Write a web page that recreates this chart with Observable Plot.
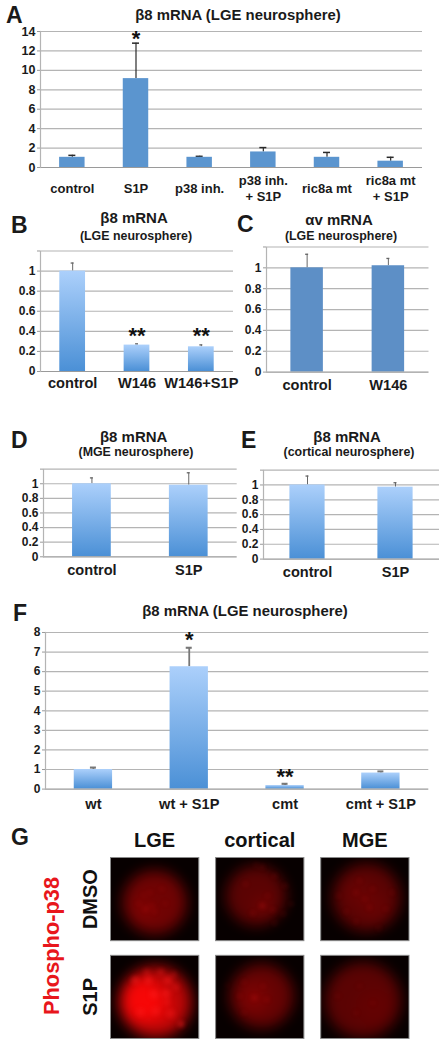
<!DOCTYPE html>
<html><head><meta charset="utf-8">
<script src="https://cdn.jsdelivr.net/npm/d3@7"></script>
<script src="https://cdn.jsdelivr.net/npm/@observablehq/plot@0.6"></script>
<style>
html,body{margin:0;padding:0;background:#fff;}
#page{position:relative;width:448px;height:1043px;overflow:hidden;font-family:"Liberation Sans",Arial,sans-serif;font-weight:bold;color:#1a1a1a;}
.pl{position:absolute;}
.lb{position:absolute;line-height:1;white-space:nowrap;}
.pl svg{background:transparent;overflow:visible;}
</style></head><body>
<svg width="0" height="0" style="position:absolute"><defs>
<linearGradient id="barGrad" x1="0" y1="0" x2="0" y2="1"><stop offset="0" stop-color="#acd0fb"/><stop offset="1" stop-color="#4b90d6"/></linearGradient>
</defs></svg>
<div id="page"></div>
<script>
// ---- Panel data ----
const catA = ["control","S1P","p38 inh.","p38 inh.\n+ S1P","ric8a mt","ric8a mt\n+ S1P"];
const valA = [1.05,9.15,1.05,1.6,1.05,0.65];
const errA = [1.25,12.8,1.15,2.05,1.55,1.05];
const starsA = [{c:"S1P",s:"*",v:13.2}];

const catB = ["control","W146","W146+S1P"];
const valB = [1,0.263,0.246];
const errB = [1.08,0.275,0.265];
const starsB = [{c:"W146",s:"**",v:0.355},{c:"W146+S1P",s:"**",v:0.355}];

const catC = ["control","W146"];
const valC = [1,1.02];
const errC = [1.13,1.09];

const catD = ["control","S1P"];
const valD = [1,0.98];
const errD = [1.08,1.15];

const catE = ["control","S1P"];
const valE = [1,0.97];
const errE = [1.12,1.03];

const catF = ["wt","wt + S1P","cmt","cmt + S1P"];
const valF = [1,6.25,0.18,0.82];
const errF = [1.1,7.22,0.27,0.9];
const starsF = [{c:"wt + S1P",s:"*",v:7.6},{c:"cmt",s:"**",v:0.62}];

const ticks02 = [0,0.2,0.4,0.6,0.8,1,1.2];
const ticksA = [0,2,4,6,8,10,12,14];
const ticksF = [0,1,2,3,4,5,6,7,8];
const tickLabel02 = d => d === 1.2 ? "" : String(d);

// ---- Micrograph layers: [x%, y%, radius px, intensity] ----
const columns = ["LGE","cortical","MGE"];
const rows = ["DMSO","S1P"];
const bodyLgeDmso = [[50,54,32,.42],[38,62,12,.1]];
const spotLgeDmso = [[45,42,2.5,.09],[58,38,2.5,.09],[40,62,3,.13],[50,65,2.5,.1],[38,45,2.5,.08],[62,55,2.5,.08],[47,58,2.5,.1],[32,55,2.5,.08]];
const bodyCorDmso = [[46,46,30,.34],[53,58,10,.1]];
const spotCorDmso = [[34,32,2.5,.1],[53,11,2.5,.13],[46,9,2.5,.1],[67,22,2.5,.13],[79,34,2.5,.13],[53,58,3,.2],[42,67,2.5,.13],[65,63,2.5,.13],[86,56,2.5,.1],[67,79,2.5,.1],[77,68,2.5,.1],[59,46,2.5,.1]];
const bodyMgeDmso = [[52,48,34,.34],[42,42,14,.07],[60,58,14,.07]];
const spotMgeDmso = [[40,42,2.5,.12],[59,38,2.5,.1],[55,60,2.5,.12],[29,65,2.5,.09],[74,62,2.5,.09],[44,28,2.5,.09],[40,77,2.5,.09],[66,85,2.5,.09],[20,46,2.5,.09],[81,42,2.5,.09],[50,50,2.5,.1]];
const bodyLgeS1p = [[51,56,36,.72],[36,54,22,.85],[52,62,18,.35]];
const spotLgeS1p = [[28,30,4,.4],[43,30,4,.4],[41,20,3.5,.25],[57,20,3.5,.28],[65,30,4.5,.38],[72,23,3,.25],[49,47,4.5,.42],[63,46,4.5,.42],[68,70,4.5,.32],[80,83,3,.5],[34,68,4.5,.32],[51,67,4.5,.32],[64,56,3.5,.28],[74,38,3.5,.25]];
const bodyCorS1p = [[52,49,32,.38],[44,51,14,.16]];
const spotCorS1p = [[27,49,2.5,.1],[32,32,2.5,.09],[58,53,2.5,.13],[13,36,2,.07],[54,37,2.5,.09],[32,69,2.5,.09],[44,51,3,.18]];
const bodyMgeS1p = [[48,54,38,.34],[60,62,18,.05]];
const spotMgeS1p = [[44,37,2.5,.07],[19,49,2.5,.07],[59,57,2.5,.07],[40,69,2.5,.07]];

function layer(arr,col,row){return arr.map(([x,y,r,o])=>({col,row,x,y,r,o}));}
const bodies = [
  ...layer(bodyLgeDmso,"LGE","DMSO"),...layer(bodyCorDmso,"cortical","DMSO"),...layer(bodyMgeDmso,"MGE","DMSO"),
  ...layer(bodyLgeS1p,"LGE","S1P"),...layer(bodyCorS1p,"cortical","S1P"),...layer(bodyMgeS1p,"MGE","S1P")];
const spots = [
  ...layer(spotLgeDmso,"LGE","DMSO"),...layer(spotCorDmso,"cortical","DMSO"),...layer(spotMgeDmso,"MGE","DMSO"),
  ...layer(spotLgeS1p,"LGE","S1P"),...layer(spotCorS1p,"cortical","S1P"),...layer(spotMgeS1p,"MGE","S1P")];

// ---- Layout ----
const page = document.getElementById("page");
const font = '"Liberation Sans",Arial,sans-serif';
const fillGrad = "url(#barGrad)";

function barPanel({cats,vals,errs,stars=[],ticks,domain,L,R,T,B,fill,capW,errColor,errW,xFont,yFont,xPad,mb,tickLabel}){
  const ml=36, mr=4, mt=8;
  const rows_ = cats.map((c,i)=>({c,v:vals[i],e:errs[i]}));
  const bw = (R-L)/cats.length*0.4;
  const capInset = Math.max(0,(bw-capW)/2);
  const p = Plot.plot({
    width:R-L+ml+mr, height:B-T+mt+mb, marginLeft:ml, marginRight:mr, marginTop:mt, marginBottom:mb,
    style:{fontFamily:font,fontWeight:"bold",color:"#1a1a1a",background:"transparent"},
    x:{domain:cats,paddingInner:.6,paddingOuter:.3,round:false,axis:null},
    y:{domain,axis:null},
    marks:[
      Plot.ruleY(ticks.filter(t=>t>0),{y:d=>d,stroke:"#b4b4b4",strokeWidth:1.2}),
      Plot.ruleX(rows_,{x:"c",y1:"v",y2:"e",stroke:errColor,strokeWidth:errW}),
      Plot.tickY(rows_,{x:"c",y:"e",stroke:errColor,strokeWidth:errW+.3,insetLeft:capInset,insetRight:capInset}),
      Plot.barY(rows_,{x:"c",y:"v",fill}),
      Plot.ruleY([0],{stroke:"#9a9a9a",strokeWidth:1.2}),
      Plot.frame({anchor:"left",stroke:"#b4b4b4",strokeWidth:1.2}),
      Plot.axisY({ticks,tickFormat:tickLabel,tickSize:3,tickPadding:2,stroke:"#9a9a9a",fill:"#1a1a1a",fontSize:yFont,anchor:"left",label:null}),
      Plot.axisX({tickSize:0,tickPadding:xPad,fontSize:xFont,anchor:"bottom",label:null,lineAnchor:"middle",lineHeight:1.28,fill:"#1a1a1a"}),
      Plot.text(stars,{x:"c",y:"v",text:"s",fontSize:22,fontWeight:"bold",fill:"#111",lineAnchor:"middle"})
    ]
  });
  const d=document.createElement("div");d.className="pl";d.style.left=(L-ml)+"px";d.style.top=(T-mt)+"px";
  d.appendChild(p);page.appendChild(d);
}

const defaultErr = {errColor:"#666",errW:1,capW:3};
barPanel({cats:catA,vals:valA,errs:errA,stars:starsA,ticks:ticksA,domain:[0,14],L:40,R:422,T:31.3,B:167.3,fill:"#5b95cf",capW:7,errColor:"#2a2a2a",errW:1.2,xFont:13,yFont:12.5,xPad:20,mb:40});
barPanel({cats:catB,vals:valB,errs:errB,stars:starsB,ticks:ticks02,domain:[0,1.195],L:39.7,R:232.7,T:250.7,B:370.7,fill:fillGrad,...defaultErr,xFont:14.6,yFont:12,xPad:11,mb:24,tickLabel:tickLabel02});
barPanel({cats:catC,vals:valC,errs:errC,ticks:ticks02,domain:[0,1.195],L:266,R:428.5,T:246.7,B:371.3,fill:"#5d8fc6",...defaultErr,xFont:14.6,yFont:12,xPad:12,mb:28,tickLabel:tickLabel02});
barPanel({cats:catD,vals:valD,errs:errD,ticks:ticks02,domain:[0,1.195],L:43,R:236.7,T:468.7,B:556,fill:fillGrad,...defaultErr,xFont:14.6,yFont:12,xPad:12,mb:26,tickLabel:tickLabel02});
barPanel({cats:catE,vals:valE,errs:errE,ticks:ticks02,domain:[0,1.195],L:263.3,R:439.3,T:469.7,B:558.3,fill:fillGrad,...defaultErr,xFont:14.6,yFont:12,xPad:12,mb:28,tickLabel:tickLabel02});
barPanel({cats:catF,vals:valF,errs:errF,stars:starsF,ticks:ticksF,domain:[0,8],L:45,R:428.3,T:631.7,B:788.3,fill:fillGrad,capW:6,errColor:"#777",errW:1.8,xFont:14.6,yFont:12,xPad:14,mb:28});

// Micrograph grid
{
  const L=110,R=408.5,T=857.3,B=1038.3,ml=70,mt=30,mr=4,mb=4;
  const p = Plot.plot({
    width:R-L+ml+mr,height:B-T+mt+mb,marginLeft:ml,marginRight:mr,marginTop:mt,marginBottom:mb,
    style:{fontFamily:font,fontWeight:"bold",color:"#111",background:"transparent"},
    x:{domain:[0,100],axis:null},y:{domain:[100,0],axis:null},
    fx:{domain:columns,paddingInner:.16,paddingOuter:0,round:false,axis:null},
    fy:{domain:rows,paddingInner:.15,paddingOuter:0,round:false,axis:null},
    r:{type:"identity"},opacity:{type:"identity"},
    marks:[
      Plot.frame({fill:"#070000"}),
      Plot.dot(bodies,{fx:"col",fy:"row",x:"x",y:"y",r:"r",fill:"#ff0808",fillOpacity:"o",stroke:"none",imageFilter:"blur(7px)",clip:"frame"}),
      Plot.dot(spots,{fx:"col",fy:"row",x:"x",y:"y",r:"r",fill:"#ff2020",fillOpacity:"o",stroke:"none",imageFilter:"blur(2px)",clip:"frame"}),
      Plot.frame({stroke:"#8a8a8a",strokeWidth:1}),
      Plot.axisFx({anchor:"top",tickSize:0,tickPadding:11,fontSize:20,label:null,fill:"#111"}),
      Plot.axisFy({anchor:"left",tickSize:0,tickPadding:14,tickRotate:-90,fontSize:20,label:null,fill:"#111",textAnchor:"middle"})
    ]
  });
  const d=document.createElement("div");d.className="pl";d.style.left=(L-ml)+"px";d.style.top=(T-mt)+"px";
  d.appendChild(p);page.appendChild(d);
}

// ---- Text ----
const texts = [
  ["A",6,23,23],["B",11,233,23],["C",237,232,23],["D",11,448,23],["E",241,448,23],["F",13,621,23],["G",11,845,23],
  ["β8 mRNA (LGE neurosphere)",238,21,14.9,"c"],
  ["β8 mRNA",134,223,15,"c"],["(LGE neurosphere)",136,240,12.4,"c"],
  ["αv mRNA",339,225,15,"c"],["(LGE neurosphere)",341,240,12.4,"c"],
  ["β8 mRNA",133.7,441.7,15,"c"],["(MGE neurosphere)",136,456.7,12.4,"c"],
  ["β8 mRNA",347,441.7,15,"c"],["(cortical neurosphere)",349,456.7,12.4,"c"],
  ["β8 mRNA (LGE neurosphere)",245,616.7,14.9,"c"]
];
for(const [t,x,base,fs,al] of texts){
  const e=document.createElement("div");e.className="lb";e.textContent=t;
  e.style.fontSize=fs+"px";e.style.left=x+"px";e.style.top=(base-.8465*fs)+"px";
  if(al==="c")e.style.transform="translateX(-50%)";
  page.appendChild(e);
}
const ph=document.createElement("div");ph.className="lb";ph.textContent="Phospho-p38";
ph.style.cssText+="font-size:21.8px;color:#e8161c;left:52px;top:945.5px;transform:translate(-50%,-50%) rotate(-90deg);";
page.appendChild(ph);
</script>
</body></html>
